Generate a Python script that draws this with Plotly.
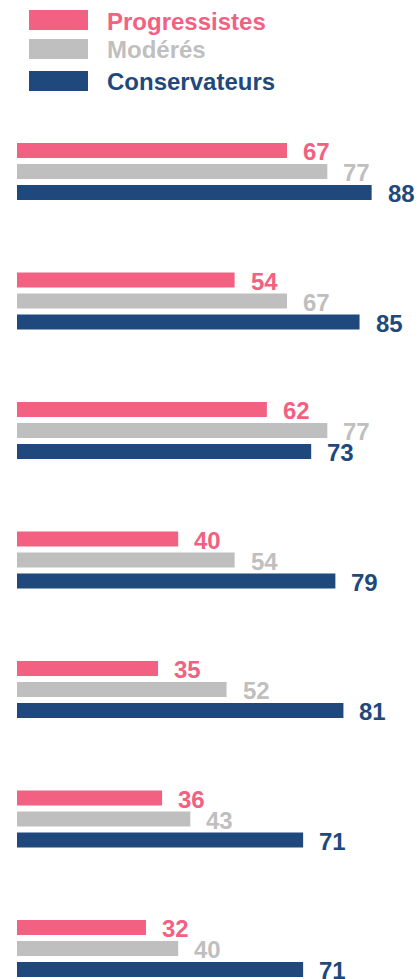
import plotly.graph_objects as go

categories = ["Q1", "Q2", "Q3", "Q4", "Q5", "Q6", "Q7"]
series_names = ["Progressistes", "Modérés", "Conservateurs"]
progressistes = [67, 54, 62, 40, 35, 36, 32]
moderes = [77, 67, 77, 54, 52, 43, 40]
conservateurs = [88, 85, 73, 79, 81, 71, 71]
series_values = [progressistes, moderes, conservateurs]
colors = ["#F26181", "#BFBFBF", "#1F497D"]

W, H = 418, 979
ML, MR, MT, MB = 17, 0, 100, 0
PW, PH = W - ML - MR, H - MT - MB

def px_x(px):
    return (px - ML) / PW

def px_y(py):
    return (H - MB - py) / PH

fig = go.Figure()
for name, vals, col in zip(series_names, series_values, colors):
    fig.add_trace(go.Bar(
        y=categories, x=vals, orientation="h", name=name,
        marker=dict(color=col, line=dict(width=0)),
        showlegend=False, hoverinfo="skip",
    ))

# value labels
annotations = []
offsets = [-1, 0, 1]
for vals, col, off in zip(series_values, colors, offsets):
    for i, v in enumerate(vals):
        annotations.append(dict(
            x=v, y=i + off * 21 / 129.5, xref="x", yref="y",
            text=f"<b>{v}</b>", showarrow=False,
            xanchor="left", yanchor="middle", xshift=14, yshift=-1,
            font=dict(family="Liberation Sans, Arial", size=24, color=col),
        ))

# custom legend
shapes = []
leg_y = [(10, 30), (39, 59), (71, 91)]
for (y0, y1), name, col in zip(leg_y, series_names, colors):
    shapes.append(dict(
        type="rect", xref="paper", yref="paper",
        x0=px_x(29), x1=px_x(88), y0=px_y(y1), y1=px_y(y0),
        fillcolor=col, line=dict(width=0),
    ))
    annotations.append(dict(
        x=px_x(105), y=px_y((y0 + y1) / 2 + 1), xref="paper", yref="paper",
        text=f"<b>{name}</b>", showarrow=False,
        xanchor="left", yanchor="middle",
        font=dict(family="Liberation Sans, Arial", size=24, color=col),
    ))

top_val = -(171.5 - MT) / 129.5
bot_val = (H - MB - 171.5) / 129.5

fig.update_layout(
    width=W, height=H,
    margin=dict(l=ML, r=MR, t=MT, b=MB),
    barmode="group", bargap=0.514, bargroupgap=0.286,
    plot_bgcolor="white", paper_bgcolor="white",
    xaxis=dict(range=[0, PW / 4.03], visible=False, fixedrange=True),
    yaxis=dict(range=[bot_val, top_val], visible=False, fixedrange=True),
    shapes=shapes, annotations=annotations,
    hovermode=False,
)

fig.write_html(
    "out.html",
    config={"displayModeBar": False},
    post_script="document.body.style.margin='0px';document.body.style.overflow='hidden';",
)
